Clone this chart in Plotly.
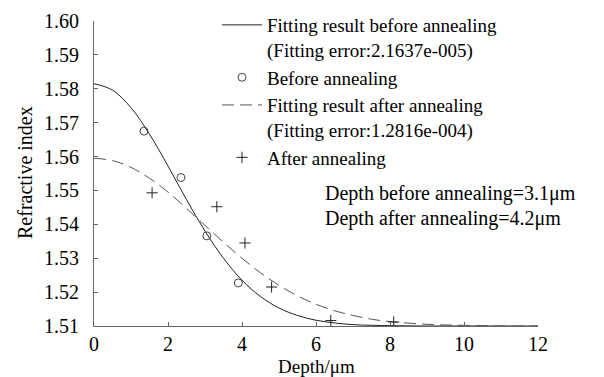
import plotly.graph_objects as go

# ---- data ----
x_fit = [0, 0.5, 1, 1.5, 2, 2.5, 3, 3.5, 4, 4.5, 5, 5.5, 6, 6.5, 7, 7.5, 8, 9, 10, 11, 12]
n_fit_before = [1.5815, 1.5796, 1.5744, 1.5666, 1.5572, 1.5473, 1.5380, 1.5300, 1.5235, 1.5187,
                1.5153, 1.5131, 1.5117, 1.5109, 1.5104, 1.5102, 1.5101, 1.5100, 1.5100, 1.5100, 1.5100]
n_fit_after = [1.5595, 1.5588, 1.5568, 1.5536, 1.5495, 1.5447, 1.5397, 1.5347, 1.5300, 1.5257,
               1.5220, 1.5189, 1.5164, 1.5145, 1.5131, 1.5120, 1.5113, 1.5105, 1.5102, 1.5100, 1.5100]

x_before = [1.35, 2.35, 3.05, 3.9]
n_before = [1.5675, 1.5538, 1.5366, 1.5227]

x_after = [1.57, 3.32, 4.08, 4.8, 6.4, 8.1]
n_after = [1.5493, 1.5452, 1.5345, 1.5215, 1.5116, 1.5112]

x_ticks = [0, 2, 4, 6, 8, 10, 12]
y_ticks = [1.51, 1.52, 1.53, 1.54, 1.55, 1.56, 1.57, 1.58, 1.59, 1.60]

names = ["Fitting result before annealing<br>(Fitting error:2.1637e-005)",
         "Before annealing",
         "Fitting result after annealing<br>(Fitting error:1.2816e-004)",
         "After annealing"]
notes = ["Depth before annealing=3.1\u03bcm", "Depth after annealing=4.2\u03bcm"]
x_title = "Depth/\u03bcm"
y_title = "Refractive index"

FONT = "Liberation Serif, Times New Roman, serif"
AXC = "#666666"

W, H = 604, 377
L, R, T, B = 94, 66, 0, 51
PLOT_TOP = 21                      # pixel row of the y-axis top (1.60)
pw, ph = W - L - R, H - T - B      # paper area (plot area incl. space above axis)


def px2paper(px, py):
    return (px - L) / pw, 1 - (py - T) / ph


fig = go.Figure()
fig.add_trace(go.Scatter(x=x_fit, y=n_fit_before, mode="lines", name=names[0],
                         line=dict(color="#222222", width=1, shape="spline")))
fig.add_trace(go.Scatter(x=x_before, y=n_before, mode="markers", name=names[1],
                         marker=dict(symbol="circle-open", size=8, color="#444444",
                                     line=dict(width=1))))
fig.add_trace(go.Scatter(x=x_fit, y=n_fit_after, mode="lines", name=names[2],
                         line=dict(color="#555555", width=1, dash="12px,6px", shape="spline")))
fig.add_trace(go.Scatter(x=x_after, y=n_after, mode="markers", name=names[3],
                         marker=dict(symbol="cross-thin-open", size=8, color="#222222",
                                     line=dict(width=1, color="#222222"))))

for txt, pos in zip(notes, [(323, 193), (323, 218)]):
    ax, ay = px2paper(*pos)
    fig.add_annotation(x=ax, y=ay, xref="paper", yref="paper", text=txt, showarrow=False,
                       xanchor="left", yanchor="middle",
                       font=dict(family=FONT, size=20, color="#000000"))

ax, ay = px2paper(316, 366)
fig.add_annotation(x=ax, y=ay, xref="paper", yref="paper", text=x_title, showarrow=False,
                   xanchor="center", yanchor="middle", borderpad=0,
                   font=dict(family=FONT, size=19, color="#000000"))
ax, ay = px2paper(25, 173)
fig.add_annotation(x=ax, y=ay, xref="paper", yref="paper", text=y_title, showarrow=False,
                   textangle=-90, xanchor="center", yanchor="middle",
                   font=dict(family=FONT, size=20, color="#000000"))

lx, ly = px2paper(217, 6)
fig.update_layout(
    width=W, height=H,
    margin=dict(l=L, r=R, t=T, b=B),
    paper_bgcolor="white", plot_bgcolor="white",
    font=dict(family=FONT, size=20, color="#000000"),
    showlegend=True,
    legend=dict(x=lx, y=ly, xanchor="left", yanchor="top",
                bgcolor="rgba(0,0,0,0)", font=dict(family=FONT, size=19),
                tracegroupgap=0, itemwidth=40, valign="top"),
)
fig.update_xaxes(range=[0, 12], tickvals=x_ticks, ticktext=[str(v) for v in x_ticks],
                 showgrid=False, zeroline=False, showline=True, linecolor=AXC, linewidth=1,
                 ticks="inside", ticklen=4, tickcolor=AXC, tickfont=dict(size=20),
                 ticklabelstandoff=0, automargin=False)
fig.update_yaxes(range=[1.51, 1.60], tickvals=y_ticks, ticktext=["%.2f" % v for v in y_ticks],
                 domain=[0, (H - B - PLOT_TOP) / ph],
                 showgrid=False, zeroline=False, showline=True, linecolor=AXC, linewidth=1,
                 ticks="inside", ticklen=4, tickcolor=AXC, tickfont=dict(size=20),
                 ticklabelstandoff=10, automargin=False)

fig.write_html("out.html", config={"displayModeBar": False},
               post_script="document.body.style.margin='0px';")
